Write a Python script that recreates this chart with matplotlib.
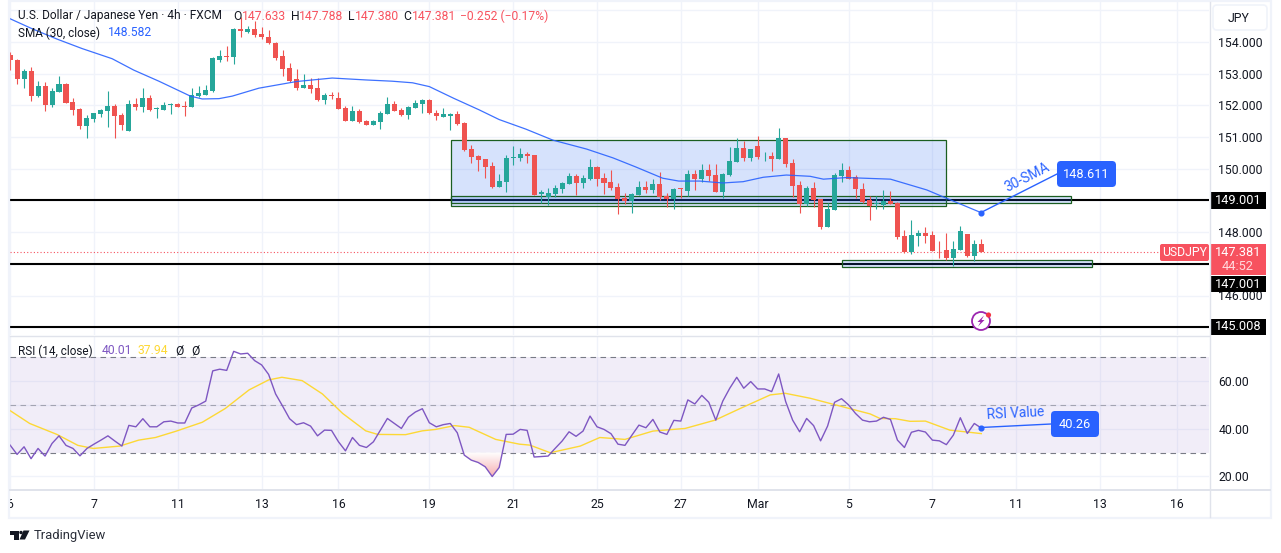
import numpy as np
import matplotlib
matplotlib.use("Agg")
import matplotlib.pyplot as plt
from matplotlib.patches import Rectangle, FancyBboxPatch, Circle, Polygon
from matplotlib.colors import LinearSegmentedColormap
from matplotlib.transforms import Bbox

plt.rcParams['font.family'] = ['Roboto', 'DejaVu Sans']

open_ = [153.60,153.44,152.82,153.07,152.28,152.60,152.00,152.41,152.66,152.09,
151.87,151.34,151.56,151.72,151.81,151.97,151.68,151.18,152.03,151.94,
152.22,151.87,151.84,152.01,152.03,151.97,151.94,152.28,152.34,152.44,
153.44,153.54,153.51,154.42,154.32,154.42,154.26,154.17,153.98,153.54,
153.19,152.82,152.56,152.63,152.53,152.16,152.31,152.22,151.90,151.50,
151.81,151.50,151.37,151.46,151.72,152.03,151.84,151.68,151.90,152.03,
152.16,151.76,151.64,151.67,151.71,151.45,150.63,150.41,150.31,150.09,
149.43,149.59,150.35,150.35,150.47,150.44,149.21,149.12,149.21,149.37,
149.53,149.78,149.56,149.68,150.06,149.72,149.59,149.43,149.08,148.99,
149.18,149.43,149.34,149.53,149.15,149.05,149.38,149.31,149.84,149.68,
149.97,149.81,149.27,149.81,150.22,150.66,150.35,150.73,150.39,150.41,
150.31,150.98,150.19,149.50,148.90,149.40,149.05,148.17,148.70,149.77,
149.96,149.73,149.35,149.02,148.89,148.87,148.98,148.92,147.88,147.38,
147.88,147.98,147.91,147.44,147.44,147.19,147.44,147.95,147.25,147.633]
high = [153.68,153.47,153.13,153.22,152.78,152.75,152.53,152.91,152.69,152.22,
151.90,151.68,151.75,151.87,152.44,152.03,151.75,152.16,152.22,152.56,
152.31,151.94,152.09,152.06,152.06,152.12,152.53,152.60,152.63,153.51,
153.73,153.88,154.45,154.77,154.51,154.67,154.48,154.36,154.01,153.73,
153.35,153.16,153.00,152.85,152.85,152.38,152.41,152.41,151.97,151.97,
151.87,151.53,151.53,151.81,152.25,152.12,151.90,151.97,152.16,152.19,
152.19,151.86,151.90,151.76,151.83,151.48,150.76,150.44,150.31,150.22,
149.84,150.44,150.73,150.66,150.54,150.44,149.34,149.40,149.50,149.59,
149.87,149.84,149.81,150.31,150.09,149.87,149.97,149.56,149.24,149.24,
149.62,149.62,149.68,149.91,149.24,149.40,149.40,149.97,149.97,150.16,
150.16,150.16,149.87,150.70,150.98,150.88,150.63,151.04,150.54,150.54,
151.29,150.98,150.31,149.62,149.46,149.59,149.05,148.92,149.87,150.18,
150.09,149.80,149.54,149.14,149.14,149.33,149.30,148.95,148.07,148.39,
148.07,148.17,148.04,147.73,147.98,147.73,148.20,147.95,147.76,147.788]
low = [153.10,152.66,152.56,152.12,152.25,151.81,151.94,152.41,152.06,151.68,
151.24,150.96,151.46,151.62,151.31,150.96,151.21,151.18,151.84,151.78,
151.81,151.59,151.84,151.72,151.94,151.65,151.94,152.25,152.31,152.41,
153.38,153.41,153.29,154.14,154.29,154.14,154.10,153.92,153.44,152.94,
152.75,152.47,152.53,152.38,152.12,152.03,152.19,151.87,151.50,151.50,
151.43,151.37,151.37,151.24,151.72,151.81,151.65,151.56,151.90,151.75,
151.72,151.55,151.64,151.23,151.39,150.57,150.19,149.94,149.72,149.40,
149.43,149.27,150.13,150.25,150.19,149.18,148.93,148.86,149.12,149.24,
149.53,149.18,149.40,149.65,149.46,149.21,149.34,148.58,148.90,148.61,
149.18,149.24,149.24,149.02,148.80,148.74,149.08,149.15,149.34,149.59,
149.62,149.27,149.08,149.78,150.22,150.25,150.25,150.31,150.25,149.94,
150.31,150.06,149.12,148.61,148.83,148.80,148.10,148.17,148.70,149.58,
149.68,149.08,148.92,148.39,148.73,148.73,148.89,147.79,147.35,147.32,
147.57,147.66,147.41,147.19,147.13,146.94,147.44,147.22,147.10,147.380]
close = [153.42,152.82,153.07,152.28,152.60,152.00,152.44,152.66,152.06,151.84,
151.34,151.59,151.75,151.84,151.97,151.65,151.37,152.03,151.94,152.22,
151.84,151.90,152.00,152.03,151.94,151.95,152.31,152.38,152.47,153.48,
153.54,153.52,154.42,154.34,154.42,154.23,154.14,153.95,153.48,153.16,
152.78,152.56,152.63,152.50,152.16,152.31,152.29,151.87,151.50,151.81,
151.46,151.37,151.50,151.75,152.03,151.81,151.68,151.94,152.06,152.16,
151.75,151.65,151.71,151.72,151.42,150.60,150.38,150.28,150.06,149.43,
149.62,150.35,150.38,150.47,150.41,149.18,149.25,149.24,149.40,149.56,
149.78,149.56,149.72,150.06,149.68,149.56,149.40,149.05,148.99,149.21,
149.43,149.34,149.53,149.12,149.05,149.37,149.36,149.84,149.68,149.97,
149.78,149.27,149.84,150.25,150.66,150.35,150.63,150.38,150.41,150.31,
150.98,150.16,149.46,148.90,149.40,149.02,148.17,148.73,149.80,149.96,
149.68,149.35,148.95,148.83,148.93,148.98,148.90,147.85,147.38,147.91,
147.98,147.88,147.41,147.42,147.19,147.47,148.04,147.25,147.63,147.381]

sma_idx = [0,3.2,6.7,10.3,14.6,17.7,21.3,25.8,27.5,29.9,31.8,35.6,41,46.1,50.9,54.7,57.6,60,
           63.5,67.1,70,73.8,77.7,82.5,86.3,89.6,93.4,95.7,98.7,102,104.9,107.8,111.1,114.5,
           116.4,119.7,126,131.2,134,139]
sma_val = [154.73,154.41,154.09,153.79,153.47,153.11,152.76,152.29,152.20,152.21,152.29,152.54,
           152.75,152.86,152.80,152.76,152.71,152.59,152.22,151.86,151.55,151.25,150.90,150.62,
           150.34,150.05,149.70,149.61,149.61,149.55,149.59,149.73,149.80,149.76,149.67,149.72,
           149.67,149.33,149.07,148.611]

rsi = [33.1,29.2,32.4,27.4,31.7,28.5,33.8,37.0,33.0,31.7,28.6,31.7,33.5,35.2,37.0,34.8,32.7,41.4,40.8,44.2,
40.8,40.8,42.9,43.2,42.4,42.4,48.7,50.0,51.6,64.3,65.0,64.5,72.5,71.4,71.7,68.6,66.8,62.8,54.6,49.5,
44.2,41.7,42.5,41.1,37.0,39.4,39.3,34.5,30.7,36.3,33.0,32.1,34.5,39.4,44.3,42.2,40.1,44.8,47.0,48.4,
42.5,40.8,41.7,42.2,38.3,28.9,26.8,25.8,24.0,19.9,23.7,37.6,37.7,39.7,39.3,28.1,28.3,28.5,31.7,34.8,
38.7,36.8,39.0,45.3,40.8,39.7,37.9,33.5,33.0,37.3,41.5,40.4,43.9,38.6,37.6,43.5,43.2,52.1,50.4,54.0,
51.1,43.6,51.6,57.0,61.6,57.0,59.8,56.7,56.7,55.6,63.0,51.4,43.6,38.7,44.3,41.3,34.9,41.1,51.1,52.6,
50.0,46.4,43.6,42.9,43.2,44.8,43.9,35.2,32.1,38.5,39.3,38.6,35.2,34.9,33.3,37.3,44.6,38.0,42.2,40.26]

rsi_ma_idx = [0,2.8,6.7,9.7,11.9,15.7,18.4,20.8,23.7,27.5,30.8,34.2,37,38.9,41.8,44.7,47.6,50.9,52.6,
              56.6,59,60.9,63.6,65.7,69.5,72.9,74.4,77.3,81.6,84.4,88,92,96.6,100.9,104.5,108.8,110.9,
              114.5,118.8,123.1,124.5,126.7,128.8,131,134.5,139]
rsi_ma_val = [47.6,42.2,37.6,33.0,31.7,32.7,35.2,36.3,38.9,42.7,48.5,56.3,60.5,61.6,60.2,54.6,46.4,39.1,
              37.6,37.5,39.1,39.7,41.3,40.6,35.5,33.5,33.1,29.9,32.7,36.3,35.5,39.0,40.1,43.6,48.5,54.2,
              54.9,52.8,49.5,46.2,44.3,44.2,43.1,43.2,39.4,37.94]

date_ticks = [0,12,24,36,47,60,72,84,96,107,120,132,144,156,167]
date_labels = ['6','7','11','13','16','19','21','25','27','Mar','5','7','11','13','16']
price_grid = [145,146,147,148,149,150,151,152,153,154,155]
price_labelled = {146,148,150,151,152,153,154}
rsi_grid = [20,40,60]
level_lines = [149.001,147.001,145.008]
zone_boxes = [(63.06,134.0,148.81,150.90),(63.06,151.9,148.91,149.13),(119.0,154.9,146.89,147.11)]
last_price = 147.381

W, H = 1281, 553
GREEN, RED = '#26a69a', '#ef5350'
LABEL_RED = '#f7525f'
BLUE = '#2962ff'
TEXT = '#131722'
GRID = '#f0f3fa'
BORDER = '#e0e3eb'

fig = plt.figure(figsize=(W/100, H/100), dpi=100, facecolor='white')

def pane(l, t, r, b):
    return fig.add_axes([l/W, 1-b/H, (r-l)/W, (b-t)/H])

L, R = 10, 1209
xlim = ((L-10.1)/6.987, (R-10.1)/6.987)

ax = pane(L, 2, R, 335)
ax.set_xlim(xlim)
ax.set_ylim(151-(335-137)/31.7, 151-(2-137)/31.7)
ax2 = pane(L, 337, R, 490)
ax2.set_xlim(xlim)
ax2.set_ylim(70-(490-357.3)/2.38, 70-(337-357.3)/2.38)

for a in (ax, ax2):
    for s in a.spines.values():
        s.set_visible(False)
    a.set_xticks(date_ticks)
    a.grid(True, color=GRID, lw=1.0)
    a.set_axisbelow(True)
    a.tick_params(length=0)

# main pane
ax.set_xticklabels([])
ax.yaxis.tick_right()
ax.set_yticks(price_grid)
ax.set_yticklabels([f'{p}.000' if p in price_labelled else '' for p in price_grid],
                   fontsize=8.8, color=TEXT)
ax.tick_params(axis='y', pad=6.5)

for v in level_lines:
    ax.axhline(v, color='black', lw=1.5, zorder=1.5)
for x0, x1, y0, y1 in zone_boxes:
    ax.add_patch(Rectangle((x0, y0), x1-x0, y1-y0, facecolor=(0.13, 0.38, 0.95, 0.18),
                           edgecolor='#1b5e20', lw=0.9, zorder=2))
ax.axhline(last_price, color=LABEL_RED, lw=0.8, ls=(0, (1, 2)), zorder=2.2)

x = np.arange(len(open_))
o, h_, l_, c = map(np.array, (open_, high, low, close))
cols = np.where(c >= o, GREEN, RED)
ax.vlines(x, l_, h_, colors=cols, lw=0.8, zorder=3)
ax.bar(x, np.abs(c-o), bottom=np.minimum(o, c), width=0.72, color=cols, linewidth=0, zorder=3.1)
ax.plot(sma_idx, sma_val, color=BLUE, lw=0.9, zorder=4, alpha=0.9)

# RSI pane
ax2.yaxis.tick_right()
ax2.set_yticks(rsi_grid)
ax2.set_yticklabels([f'{v}.00' for v in rsi_grid], fontsize=8.8, color=TEXT)
ax2.tick_params(axis='y', pad=7)
ax2.axhline(50, color=GRID, lw=1, zorder=0.5)
ax2.axhspan(30, 70, facecolor='#7e57c2', alpha=0.1, lw=0, zorder=1)
for v in (30, 50, 70):
    ax2.axhline(v, color='#787b86', lw=0.8, ls=(0, (5, 4)), zorder=1.5, alpha=1 if v != 50 else 0.6)

rsi_arr = np.array(rsi, dtype=float)
seg = np.arange(64, 72)
poly = ax2.fill_between(seg, rsi_arr[seg], 30, where=rsi_arr[seg] < 30, interpolate=True,
                        facecolor='none', lw=0, zorder=2)
cmap = LinearSegmentedColormap.from_list('os', ['#f7aeb1', '#ffffff'])
im = ax2.imshow(np.linspace(0, 1, 64).reshape(-1, 1), extent=(64, 72, 19.9, 30), origin='lower',
                aspect='auto', cmap=cmap, zorder=1.8)
im.set_clip_path(poly.get_paths()[0], transform=ax2.transData)
ax2.set_xlim(xlim)
ax2.set_ylim(70-(490-357.3)/2.38, 70-(337-357.3)/2.38)

ax2.plot(rsi_ma_idx, rsi_ma_val, color='#fdd835', lw=1.0, zorder=3)
ax2.plot(x, rsi, color='#7e57c2', lw=1.0, zorder=3.1)

ax2.set_xticklabels(date_labels, fontsize=8.8, color=TEXT)
ax2.tick_params(axis='x', pad=5.5)
for t in ax2.get_xticklabels():
    t.set_clip_box(Bbox([[L, 0], [W, H]]))
    t.set_clip_on(True)

# overlay in pixel space for TradingView chrome
ov = fig.add_axes([0, 0, 1, 1], zorder=10)
ov.set_xlim(0, W)
ov.set_ylim(H, 0)
ov.axis('off')
ov.patch.set_alpha(0)

ov.plot([1209.5, 1209.5], [2, 517], color=BORDER, lw=1.0)
ov.plot([L, 1270], [490, 490], color=BORDER, lw=1.4)
ov.plot([L, 1209], [336, 336], color=BORDER, lw=1.0)
ov.add_patch(Rectangle((8.8, 1), 1262.2, 517, fill=False, edgecolor=GRID, lw=1.6))

ov.add_patch(FancyBboxPatch((1215, 7), 50, 21, boxstyle='round,pad=2,rounding_size=4',
                            facecolor='white', edgecolor=GRID, lw=1.2))
ov.text(1239, 18.5, 'JPY', ha='center', va='center', fontsize=8.8, color=TEXT)

def txt(x, y, s, color=TEXT, size=8.7, **kw):
    return ov.text(x, y, s, color=color, fontsize=size, va='center', **kw)

txt(18, 16, 'U.S. Dollar / Japanese Yen · 4h · FXCM', size=8.6)
txt(233, 16, 'O')
txt(242, 16, '147.633', LABEL_RED)
txt(291, 16, 'H')
txt(299, 16, '147.788', LABEL_RED)
txt(348, 16, 'L')
txt(355, 16, '147.380', LABEL_RED)
txt(403, 16, 'C')
txt(412, 16, '147.381', LABEL_RED)
txt(460, 16, '−0.252 (−0.17%)', LABEL_RED)
txt(18, 33, 'SMA (30, close)', size=8.5)
txt(108, 33, '148.582', BLUE)
txt(18, 351, 'RSI (14, close)', size=8.5)
txt(102, 351, '40.01', '#7e57c2')
txt(138, 351, '37.94', '#fdd835')
txt(175, 351, 'Ø')
txt(191, 351, 'Ø')

for y0, y1, s in [(192, 209, '149.001'), (276, 292, '147.001'), (319, 335, '145.008')]:
    ov.add_patch(Rectangle((1210, y0), 56, y1-y0, facecolor='black', lw=0))
    ov.text(1238, (y0+y1)/2, s, color='white', ha='center', va='center', fontsize=9.2)

ov.add_patch(FancyBboxPatch((1161, 245), 47, 15, boxstyle='round,pad=1,rounding_size=2',
                            facecolor=LABEL_RED, lw=0))
ov.text(1184.5, 252.5, 'USDJPY', color='white', ha='center', va='center', fontsize=8.8)
ov.add_patch(Rectangle((1210, 244), 56, 31, facecolor=LABEL_RED, lw=0))
ov.text(1238, 252.5, '147.381', color='white', ha='center', va='center', fontsize=9.2)
ov.text(1238, 267, '44:52', color='#ffd9dc', ha='center', va='center', fontsize=9.2)

# 30-SMA callout
ov.plot([981, 1057], [212.5, 174], color=BLUE, lw=1.0)
ov.plot([981], [212.5], 'o', color=BLUE, ms=3.4)
ov.add_patch(FancyBboxPatch((1059, 163), 55, 22, boxstyle='round,pad=2,rounding_size=4',
                            facecolor=BLUE, lw=0))
ov.text(1086, 174, '148.611', color='white', ha='center', va='center', fontsize=9.2)
ov.text(1027, 177, '30-SMA', color=BLUE, ha='center', va='center', fontsize=10, rotation=27,
        rotation_mode='anchor')

# RSI callout
ov.plot([981, 1051], [427.5, 424], color=BLUE, lw=1.0)
ov.plot([981], [427.5], 'o', color=BLUE, ms=3.4)
ov.add_patch(FancyBboxPatch((1053, 413), 44, 22, boxstyle='round,pad=2,rounding_size=4',
                            facecolor=BLUE, lw=0))
ov.text(1075, 424, '40.26', color='white', ha='center', va='center', fontsize=9.2)
ov.text(1016, 414, 'RSI Value', color=BLUE, ha='center', va='center', fontsize=9.8, rotation=3,
        rotation_mode='anchor')

# calendar icon
ov.add_patch(Circle((981, 321), 9, facecolor='white', edgecolor='#9c27b0', lw=1.3))
ov.add_patch(Polygon([(984, 315.5), (977.5, 322), (980.5, 322), (978, 326.5), (984.5, 320), (981.5, 320)],
                     closed=True, facecolor='#9c27b0', lw=0))
ov.add_patch(Circle((988.5, 315), 2.6, facecolor='#f23645', lw=0))

# TradingView logo
LOGO = '#131722'
ov.add_patch(Polygon([(10, 530.5), (19, 530.5), (19, 539.5), (14, 539.5), (14, 534.5), (10, 534.5)],
                     closed=True, facecolor=LOGO, lw=0))
ov.add_patch(Circle((21, 532.5), 1.7, facecolor=LOGO, lw=0))
ov.add_patch(Polygon([(23.5, 530.5), (29.5, 530.5), (25, 539.5), (19.5, 539.5)],
                     closed=True, facecolor=LOGO, lw=0))
ov.text(33.5, 535, 'TradingView', color='#2a2e39', va='center', fontsize=9.4)

fig.savefig('out.png', dpi=100, facecolor='white')
